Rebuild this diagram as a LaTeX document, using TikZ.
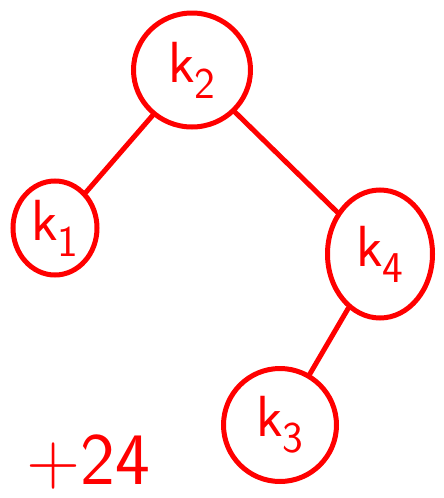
\documentclass[tikz,border=0pt]{standalone}
\usepackage{amsmath}
\usepackage{tikz}
\usetikzlibrary{shapes.geometric}

\newcommand{\keysub}[1]{\raisebox{-0.28em}{\fontsize{44}{44}\selectfont #1}}

\begin{document}
\begin{tikzpicture}[x=1pt,y=-1pt,
    key/.style={draw=red,ellipse,line width=5pt,inner sep=0pt,text=red,font=\sffamily\fontsize{58}{58}\selectfont},
    link/.style={red,line width=5pt,line cap=round}]
  \useasboundingbox (0,0) rectangle (444,498);
  % tree nodes
  \node[key,minimum width=117pt,minimum height=114pt] (k2) at (192,70) {k\keysub{2}};
  \node[key,minimum width=84pt,minimum height=94pt] (k1) at (55,228) {k\keysub{1}};
  \node[key,minimum width=105pt,minimum height=128pt] (k4) at (380,254) {k\keysub{4}};
  \node[key,minimum width=113pt,minimum height=113pt] (k3) at (280,425) {k\keysub{3}};
  % edges
  \draw[link] (k2) -- (k1);
  \draw[link] (k2) -- (k4);
  \draw[link] (k4) -- (k3);
  % note
  \node[red,font=\sffamily\fontsize{74}{74}\selectfont,anchor=base west,inner sep=0pt] (note) at (26,484) {+24};
\end{tikzpicture}
\end{document}
